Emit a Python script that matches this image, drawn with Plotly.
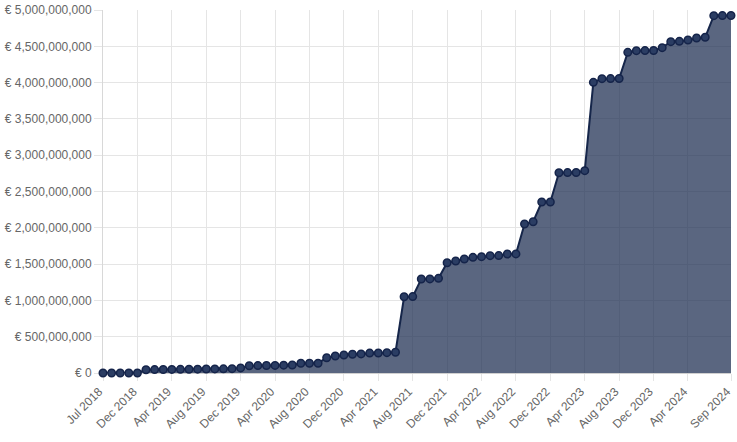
import plotly.graph_objects as go

months = (
    ["Jul 2018", "Sep 2018", "Oct 2018", "Nov 2018", "Dec 2018"]
    + [f"{m} 2019" for m in ["Jan", "Feb", "Mar", "Apr", "May", "Jun", "Jul", "Aug", "Sep", "Oct", "Nov", "Dec"]]
    + [f"{m} 2020" for m in ["Jan", "Feb", "Mar", "Apr", "May", "Jun", "Jul", "Aug", "Sep", "Oct", "Nov", "Dec"]]
    + [f"{m} 2021" for m in ["Jan", "Feb", "Mar", "Apr", "May", "Jun", "Jul", "Aug", "Sep", "Oct", "Nov", "Dec"]]
    + [f"{m} 2022" for m in ["Jan", "Feb", "Mar", "Apr", "May", "Jun", "Jul", "Aug", "Sep", "Oct", "Nov", "Dec"]]
    + [f"{m} 2023" for m in ["Jan", "Feb", "Mar", "Apr", "May", "Jun", "Jul", "Aug", "Sep", "Oct", "Nov", "Dec"]]
    + [f"{m} 2024" for m in ["Jan", "Feb", "Mar", "Apr", "May", "Jun", "Jul", "Aug", "Sep"]]
)

# cumulative amount, millions of euros
value_millions = [
    0, 0, 0, 0, 0,
    45, 47, 48, 49, 50, 52, 53, 55, 56, 57, 60, 70,
    100, 102, 103, 105, 108, 110, 134, 134, 135, 210, 234, 248,
    258, 263, 274, 276, 280, 286, 1050, 1052, 1295, 1296, 1304, 1519,
    1543, 1570, 1593, 1602, 1616, 1617, 1639, 1640, 2052, 2084, 2355, 2356,
    2759, 2760, 2761, 2787, 4004, 4054, 4055, 4056, 4417, 4440, 4441, 4442,
    4481, 4564, 4568, 4587, 4614, 4624, 4922, 4923, 4924,
]

tick_labels = [
    "Jul 2018", "Dec 2018", "Apr 2019", "Aug 2019", "Dec 2019", "Apr 2020",
    "Aug 2020", "Dec 2020", "Apr 2021", "Aug 2021", "Dec 2021", "Apr 2022",
    "Aug 2022", "Dec 2022", "Apr 2023", "Aug 2023", "Dec 2023", "Apr 2024",
    "Sep 2024",
]

y_ticks = [0, 500_000_000, 1_000_000_000, 1_500_000_000, 2_000_000_000,
           2_500_000_000, 3_000_000_000, 3_500_000_000, 4_000_000_000,
           4_500_000_000, 5_000_000_000]
y_tick_text = ["€ 0", "€ 500,000,000", "€ 1,000,000,000", "€ 1,500,000,000",
               "€ 2,000,000,000", "€ 2,500,000,000", "€ 3,000,000,000",
               "€ 3,500,000,000", "€ 4,000,000,000", "€ 4,500,000,000",
               "€ 5,000,000,000"]

values = [v * 1_000_000 for v in value_millions]

fig = go.Figure()
fig.add_trace(go.Scatter(
    x=months,
    y=values,
    mode="lines+markers",
    fill="tozeroy",
    fillcolor="rgba(26,43,79,0.72)",
    line=dict(color="#16264a", width=2),
    marker=dict(size=7.5, color="#2b3d63", line=dict(color="#15244a", width=1.5)),
    cliponaxis=False,
    hovertemplate="%{x}: € %{y:,}<extra></extra>",
))

font_family = "Liberation Sans, Arial, Helvetica, sans-serif"

fig.update_layout(
    width=737,
    height=442,
    margin=dict(l=103, r=6, t=10, b=69),
    paper_bgcolor="white",
    plot_bgcolor="white",
    showlegend=False,
    font=dict(family=font_family, size=12, color="#666666"),
)

fig.update_xaxes(
    type="category",
    categoryorder="array",
    categoryarray=months,
    range=[0, len(months) - 1],
    tickmode="array",
    tickvals=tick_labels,
    ticktext=tick_labels,
    tickangle=-45,
    showgrid=True,
    gridcolor="#e5e5e5",
    gridwidth=1,
    ticks="outside",
    ticklen=7,
    tickcolor="#e5e5e5",
    showline=True,
    linecolor="#d0d0d0",
    zeroline=False,
    automargin=False,
    layer="below traces",
    ticklabelshift=-4,
    ticklabelstandoff=-1,
    tickfont=dict(size=12, color="#666666"),
)

fig.update_yaxes(
    range=[0, 5_000_000_000],
    tickmode="array",
    tickvals=y_ticks,
    ticktext=y_tick_text,
    showgrid=True,
    gridcolor="#e5e5e5",
    gridwidth=1,
    ticks="outside",
    ticklen=8,
    tickcolor="#e5e5e5",
    showline=True,
    linecolor="#d8d8d8",
    zeroline=False,
    automargin=False,
    layer="below traces",
    tickfont=dict(size=12, color="#666666"),
)

fig.write_html(
    "out.html",
    config={"displayModeBar": False},
    post_script="document.body.style.margin='0';",
)
